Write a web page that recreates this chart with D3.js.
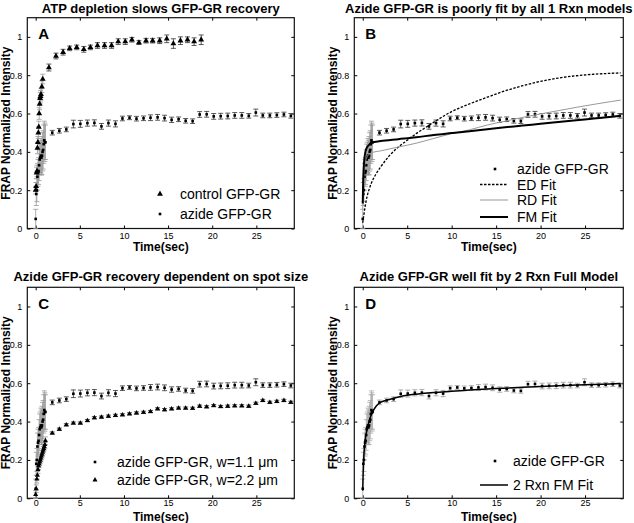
<!DOCTYPE html>
<html><head><meta charset="utf-8">
<script src="https://cdn.jsdelivr.net/npm/d3@7"></script>
<style>body{margin:0;background:#fff}svg{display:block;font-family:"Liberation Sans",Arial,sans-serif}</style>
</head><body><svg id="c" width="634" height="523"></svg>
<script>
// ---------- data ----------
const azideT = [0, 0.065, 0.13, 0.195, 0.26, 0.325, 0.39, 0.455, 0.52, 0.585, 0.65, 0.715, 0.78, 0.845, 0.91, 0.975, 1.04, 1.105,
  1.88, 2.68, 3.47, 4.27, 5.06, 5.86, 6.65, 7.45, 8.24, 9.04, 9.83, 10.63, 11.42, 12.22, 13.01, 13.81, 14.6, 15.4, 16.19, 16.99,
  17.78, 18.58, 19.37, 20.17, 20.96, 21.76, 22.55, 23.35, 24.14, 24.94, 25.73, 26.53, 27.32, 28.12, 28.91];
const azideV = [0.05, 0.18, 0.2, 0.27, 0.29, 0.3, 0.33, 0.36, 0.37, 0.38, 0.37, 0.38, 0.40, 0.41, 0.44, 0.46, 0.45, 0.45,
  0.50, 0.51, 0.517, 0.545, 0.546, 0.55, 0.551, 0.533, 0.55, 0.546, 0.574, 0.578, 0.573, 0.575, 0.578, 0.58, 0.576, 0.567,
  0.57, 0.562, 0.56, 0.595, 0.596, 0.585, 0.586, 0.587, 0.59, 0.59, 0.588, 0.605, 0.59, 0.59, 0.592, 0.595, 0.588];
const azideE = [0.05, 0.06, 0.06, 0.07, 0.07, 0.07, 0.08, 0.08, 0.08, 0.09, 0.09, 0.1, 0.1, 0.1, 0.1, 0.1, 0.1, 0.09,
  0.012, 0.012, 0.012, 0.02, 0.018, 0.016, 0.016, 0.015, 0.016, 0.016, 0.012, 0.01, 0.012, 0.012, 0.015, 0.015, 0.015, 0.014,
  0.012, 0.012, 0.012, 0.015, 0.015, 0.015, 0.015, 0.015, 0.015, 0.015, 0.012, 0.018, 0.012, 0.012, 0.012, 0.012, 0.012];

const controlT = [0, 0.05, 0.1, 0.15, 0.2, 0.25, 0.3, 0.35, 0.4, 0.45, 0.5, 0.55, 0.6, 0.7, 0.8,
  1.5, 2.3, 3.1, 3.85, 4.65, 5.45, 6.2, 7.0, 7.8, 8.6, 9.35, 10.15, 10.9, 11.7, 12.5, 13.25, 14.05, 14.85, 15.6, 16.4, 17.2, 17.95, 18.75];
const controlV = [0.2, 0.22, 0.29, 0.3, 0.42, 0.45, 0.5, 0.53, 0.6, 0.65, 0.68, 0.69, 0.7, 0.74, 0.78,
  0.84, 0.9, 0.92, 0.94, 0.945, 0.935, 0.945, 0.955, 0.955, 0.955, 0.975, 0.975, 0.985, 0.97, 0.98, 0.98, 0.98, 0.99, 0.965, 0.98, 0.985, 0.975, 0.985];
const controlE = [0.02, 0.02, 0.03, 0.03, 0.03, 0.03, 0.03, 0.03, 0.03, 0.03, 0.03, 0.03, 0.03, 0.03, 0.025,
  0.018, 0.015, 0.015, 0.012, 0.012, 0.015, 0.012, 0.015, 0.015, 0.015, 0.015, 0.015, 0.012, 0.01, 0.012, 0.012, 0.015, 0.02, 0.025, 0.02, 0.015, 0.02, 0.025];

const wideT = [0, 0.065, 0.13, 0.195, 0.26, 0.325, 0.39, 0.455, 0.52, 0.585, 0.65, 0.715, 0.78, 0.845, 0.91, 0.975, 1.04, 1.105,
  1.88, 2.68, 3.47, 4.27, 5.06, 5.86, 6.65, 7.45, 8.24, 9.04, 9.83, 10.63, 11.42, 12.22, 13.01, 13.81, 14.6, 15.4, 16.19, 16.99,
  17.78, 18.58, 19.37, 20.17, 20.96, 21.76, 22.55, 23.35, 24.14, 24.94, 25.73, 26.53, 27.32, 28.12, 28.91];
const wideV = [0.02, 0.05, 0.1, 0.12, 0.15, 0.17, 0.18, 0.19, 0.2, 0.21, 0.22, 0.23, 0.24, 0.25, 0.26, 0.27, 0.28, 0.3,
  0.34, 0.36, 0.383, 0.392, 0.392, 0.405, 0.42, 0.423, 0.428, 0.432, 0.435, 0.44, 0.445, 0.448, 0.452, 0.466, 0.462, 0.466,
  0.47, 0.47, 0.469, 0.48, 0.477, 0.483, 0.478, 0.48, 0.482, 0.482, 0.48, 0.495, 0.51, 0.5, 0.505, 0.51, 0.5];
const wideE = [0.02, 0.02, 0.02, 0.02, 0.02, 0.02, 0.02, 0.02, 0.02, 0.02, 0.02, 0.02, 0.02, 0.02, 0.02, 0.02, 0.02, 0.02,
  0.006, 0.006, 0.006, 0.006, 0.006, 0.006, 0.006, 0.006, 0.006, 0.006, 0.006, 0.006, 0.006, 0.006, 0.006, 0.006, 0.006, 0.006,
  0.006, 0.006, 0.006, 0.006, 0.006, 0.006, 0.006, 0.006, 0.006, 0.006, 0.006, 0.006, 0.006, 0.006, 0.006, 0.006, 0.006];

const edT = [0, 0.25, 0.5, 0.8, 1, 1.5, 2, 3, 4, 5, 6, 7, 8, 10, 12, 14, 16, 18, 20, 22, 24, 26, 28, 29];
const edV = [0.03, 0.11, 0.17, 0.215, 0.24, 0.285, 0.32, 0.38, 0.425, 0.46, 0.495, 0.525, 0.555, 0.61, 0.65, 0.685, 0.718, 0.745, 0.768, 0.785, 0.797, 0.805, 0.81, 0.812];
const rdT = [0, 0.05, 0.1, 0.2, 0.3, 0.5, 0.8, 1, 2, 4, 6, 8, 10, 12, 14, 16, 18, 20, 22, 24, 26, 28, 29];
const rdV = [0.1, 0.2, 0.26, 0.32, 0.35, 0.375, 0.39, 0.395, 0.405, 0.425, 0.445, 0.47, 0.495, 0.515, 0.54, 0.56, 0.58, 0.598, 0.615, 0.632, 0.648, 0.663, 0.67];
const fmT = [0, 0.05, 0.1, 0.2, 0.3, 0.5, 0.8, 1, 2, 4, 6, 8, 10, 12, 14, 16, 18, 20, 22, 24, 26, 28, 29];
const fmV = [0.13, 0.25, 0.31, 0.37, 0.4, 0.425, 0.44, 0.45, 0.456, 0.466, 0.476, 0.488, 0.498, 0.508, 0.518, 0.528, 0.537, 0.547, 0.556, 0.565, 0.574, 0.583, 0.588];
const fm2T = [0, 0.05, 0.1, 0.2, 0.3, 0.4, 0.5, 0.7, 1, 1.5, 2, 3, 4, 5, 6, 8, 10, 12, 15, 18, 20, 22, 25, 29];
const fm2V = [0.04, 0.14, 0.2, 0.27, 0.31, 0.34, 0.36, 0.4, 0.44, 0.48, 0.5, 0.515, 0.528, 0.537, 0.543, 0.552, 0.558, 0.564, 0.572, 0.579, 0.583, 0.587, 0.592, 0.598];

const xTicks = [0, 5, 10, 15, 20, 25];
const yTicks = [0, 0.2, 0.4, 0.6, 0.8, 1];
const yTickLabels = ["0", "0.2", "0.4", "0.6", "0.8", "1"];
const titles = ["ATP depletion slows GFP-GR recovery", "Azide GFP-GR is poorly fit by all 1 Rxn models",
  "Azide GFP-GR recovery dependent on spot size", "Azide GFP-GR well fit by 2 Rxn Full Model"];
const letters = ["A", "B", "C", "D"];

// ---------- drawing ----------
const svg = d3.select("#c");
const zip = (t, v, e) => t.map((d, i) => ({t: d, v: v[i], e: e ? e[i] : 0}));
const azide = zip(azideT, azideV, azideE), control = zip(controlT, controlV, controlE), wide = zip(wideT, wideV, wideE);

const layout = [
  {l: 27.3, r: 294.3, t: 17.7, b: 228.5, titleY: 12.5, xlabY: 250.5, tickPad: 4},
  {l: 354.3, r: 623.3, t: 17.7, b: 228.5, titleY: 12.5, xlabY: 250.5, tickPad: 4},
  {l: 27.3, r: 294.3, t: 287.3, b: 498.3, titleY: 280.5, xlabY: 521, tickPad: 1},
  {l: 354.3, r: 623.3, t: 287.3, b: 498.3, titleY: 280.5, xlabY: 521, tickPad: 1}
];

function panel(i) {
  const L = layout[i];
  const x = d3.scaleLinear().domain([-0.95, 29.3]).range([L.l, L.r]);
  const y = d3.scaleLinear().domain([0, 1.1]).range([L.b, L.t]);
  const g = svg.append("g");
  g.append("g").attr("transform", `translate(0,${L.b})`)
    .call(d3.axisBottom(x).tickValues(xTicks).tickSizeInner(-3).tickSizeOuter(0).tickPadding(L.tickPad).tickFormat(d3.format("d")));
  g.append("g").attr("transform", `translate(0,${L.t})`)
    .call(d3.axisTop(x).tickValues(xTicks).tickSizeInner(-3).tickSizeOuter(0).tickFormat(""));
  g.append("g").attr("transform", `translate(${L.l},0)`)
    .call(d3.axisLeft(y).tickValues(yTicks).tickSizeInner(-3).tickSizeOuter(0).tickPadding(5).tickFormat((d, k) => yTickLabels[k]));
  g.append("g").attr("transform", `translate(${L.r},0)`)
    .call(d3.axisRight(y).tickValues(yTicks).tickSizeInner(-3).tickSizeOuter(0).tickFormat(""));
  g.selectAll(".domain").remove();
  g.selectAll(".tick line").attr("stroke", "#000");
  g.selectAll(".tick text").attr("font-size", 9).attr("fill", "#000").attr("font-family", "Liberation Sans, Arial, sans-serif");
  g.append("rect").attr("x", L.l).attr("y", L.t).attr("width", L.r - L.l).attr("height", L.b - L.t)
    .attr("fill", "none").attr("stroke", "#111").attr("stroke-width", 1.2);
  g.append("text").attr("x", (L.l + L.r) / 2).attr("y", L.titleY).attr("text-anchor", "middle")
    .attr("font-size", 13).attr("font-weight", "bold").text(titles[i]);
  g.append("text").attr("x", (L.l + L.r) / 2).attr("y", L.xlabY).attr("text-anchor", "middle")
    .attr("font-size", 12).attr("font-weight", "bold").text("Time(sec)");
  g.append("text").attr("transform", `translate(${L.l - 17.5},${(L.t + L.b) / 2}) rotate(-90)`).attr("text-anchor", "middle")
    .attr("font-size", 12).attr("font-weight", "bold").text("FRAP Normalized Intensity");
  g.append("text").attr("x", L.l + 11).attr("y", L.t + 21.5).attr("font-size", 15).attr("font-weight", "bold").text(letters[i]);
  return {g, x, y, L};
}

function errbars(P, data, lateColor, earlyColor) {
  const {g, x, y} = P;
  const eg = g.append("g").attr("fill", "none").attr("stroke-width", 0.8);
  data.forEach(d => {
    const c = d.t < 1.5 ? earlyColor : lateColor;
    const cx = x(d.t), y0 = y(d.v - d.e), y1 = y(d.v + d.e);
    eg.append("path").attr("stroke", c)
      .attr("d", `M${cx},${y0}V${y1}M${cx - 2.5},${y0}H${cx + 2.5}M${cx - 2.5},${y1}H${cx + 2.5}`);
  });
}
function dots(P, data, s) {
  P.g.append("g").selectAll("rect").data(data).join("rect")
    .attr("x", d => P.x(d.t) - s / 2).attr("y", d => P.y(d.v) - s / 2).attr("width", s).attr("height", s).attr("fill", "#000");
}
function tris(P, data, size) {
  const sym = d3.symbol().type(d3.symbolTriangle).size(size);
  P.g.append("g").selectAll("path").data(data).join("path")
    .attr("transform", d => `translate(${P.x(d.t)},${P.y(d.v)})`).attr("d", sym).attr("fill", "#000");
}
function fitLine(P, T, V, color, width, dash) {
  const line = d3.line().x(d => P.x(d[0])).y(d => P.y(d[1])).curve(d3.curveMonotoneX);
  P.g.append("path").attr("d", line(T.map((t, k) => [t, V[k]]))).attr("fill", "none")
    .attr("stroke", color).attr("stroke-width", width).attr("stroke-dasharray", dash || null);
}
function legendText(P, x, y, txt) {
  P.g.append("text").attr("x", x).attr("y", y).attr("font-size", 14).text(txt);
}
function legendDot(P, x, y, s) { P.g.append("rect").attr("x", x - s / 2).attr("y", y - s / 2).attr("width", s).attr("height", s).attr("fill", "#000"); }
function legendTri(P, x, y, size) { P.g.append("path").attr("transform", `translate(${x},${y})`).attr("d", d3.symbol().type(d3.symbolTriangle).size(size)()).attr("fill", "#000"); }
function legendLine(P, x1, x2, y, color, width, dash) {
  P.g.append("line").attr("x1", x1).attr("x2", x2).attr("y1", y).attr("y2", y).attr("stroke", color).attr("stroke-width", width).attr("stroke-dasharray", dash || null);
}

// Panel A
const A = panel(0);
errbars(A, control, "#333", "#999");
errbars(A, azide, "#333", "#999");
tris(A, control, 15);
dots(A, azide, 2.6);
legendTri(A, 160, 194, 15); legendText(A, 180, 199, "control GFP-GR");
legendDot(A, 160, 214, 2.6); legendText(A, 180, 219, "azide GFP-GR");

// Panel B
const B = panel(1);
errbars(B, azide, "#333", "#999");
dots(B, azide, 2.6);
fitLine(B, edT, edV, "#000", 1.3, "2.5,1.5");
fitLine(B, rdT, rdV, "#999", 1, null);
fitLine(B, fmT, fmV, "#000", 2, null);
legendDot(B, 495, 169, 2.6); legendText(B, 517, 174, "azide GFP-GR");
legendLine(B, 480, 508, 184.5, "#000", 1.3, "2.5,1.5"); legendText(B, 517, 189.5, "ED Fit");
legendLine(B, 480, 508, 200, "#999", 1, null); legendText(B, 517, 205, "RD Fit");
legendLine(B, 480, 508, 217, "#000", 2, null); legendText(B, 517, 222, "FM Fit");

// Panel C
const C = panel(2);
errbars(C, azide, "#333", "#999");
errbars(C, wide, "#333", "#999");
dots(C, azide, 2.6);
tris(C, wide, 11);
legendDot(C, 95, 462, 2.6); legendText(C, 117, 467, "azide GFP-GR, w=1.1 \u03bcm");
legendTri(C, 95, 480, 11); legendText(C, 117, 484.5, "azide GFP-GR, w=2.2 \u03bcm");

// Panel D
const D = panel(3);
errbars(D, azide, "#999", "#aaa");
dots(D, azide, 2.6);
fitLine(D, fm2T, fm2V, "#000", 1.5, null);
legendDot(D, 495, 461, 2.6); legendText(D, 513, 466, "azide GFP-GR");
legendLine(D, 480, 508, 485, "#000", 1.5, null); legendText(D, 513, 490, "2 Rxn FM Fit");
</script>
</body></html>
